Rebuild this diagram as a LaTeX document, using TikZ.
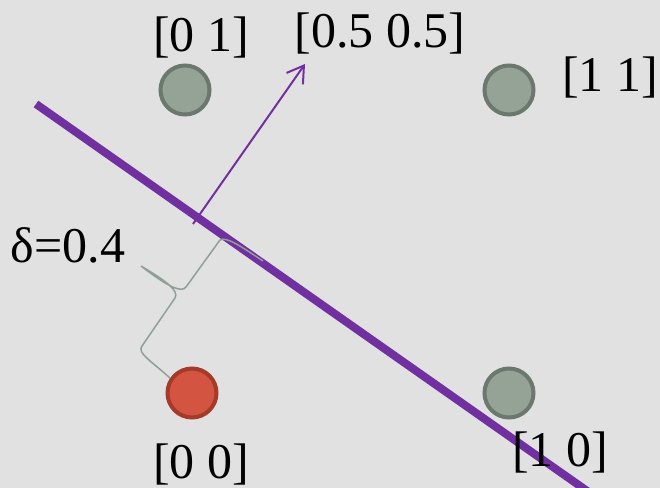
\documentclass[tikz,border=0pt]{standalone}
\usepackage{fontspec}
\setmainfont{Liberation Serif}
\usetikzlibrary{arrows.meta}

\definecolor{bggrey}{HTML}{E1E1E1}
\definecolor{ptfill}{HTML}{94A396}
\definecolor{ptedge}{HTML}{6B786E}
\definecolor{redfill}{HTML}{D35440}
\definecolor{rededge}{HTML}{A53A2A}
\definecolor{sepline}{HTML}{7030A0}
\definecolor{bracegrey}{HTML}{8FA096}

\tikzset{
  point/.style={circle, draw=ptedge, fill=ptfill, line width=2pt, minimum size=24.5pt, inner sep=0pt},
  redpoint/.style={point, draw=rededge, fill=redfill},
  lbl/.style={font=\fontsize{25}{28}\selectfont, inner sep=0pt}
}

\begin{document}
\begin{tikzpicture}[x=0.5pt, y=-0.5pt]

\fill[bggrey] (0,0) rectangle (660,488);
\useasboundingbox (0,0) rectangle (660,488);

% input points
\node (p01) [point] at (185,90) {};
\node (p11) [point] at (509,90) {};
\node (p10) [point] at (509,393) {};
\node (p00) [redpoint] at (192,393) {};

% separating line and its normal
\coordinate (lstart) at (36,104);
\coordinate (lend) at (600,500);
\draw[sepline, line width=4pt] (lstart) -- (lend);

\coordinate (foot) at (193,224);
\coordinate (tip) at (305,64);
\draw[sepline, line width=1pt, -{Straight Barb[length=8pt, width=10pt]}] (foot) -- (tip);

% distance brace
\draw[bracegrey, line width=0.75pt]
  (263,261) .. controls (242,247) and (226,236) .. (220,240) -- (186,287)
  .. controls (182,292) and (172,290) .. (141,266)
  (141,266) .. controls (168,282) and (179,291) .. (175,298) -- (142,346)
  .. controls (137,353) and (150,360) .. (170,378);

% labels
\node (t01) [lbl] at (201,37) {[0 1]};
\node (t55) [lbl] at (380,33) {[0.5 0.5]};
\node (t11) [lbl] at (610,77) {[1 1]};
\node (t00) [lbl] at (201,464) {[0 0]};
\node (t10) [lbl] at (560,452) {[1 0]};
\node (delta) [lbl] at (68,245) {δ=0.4};

\end{tikzpicture}
\end{document}
